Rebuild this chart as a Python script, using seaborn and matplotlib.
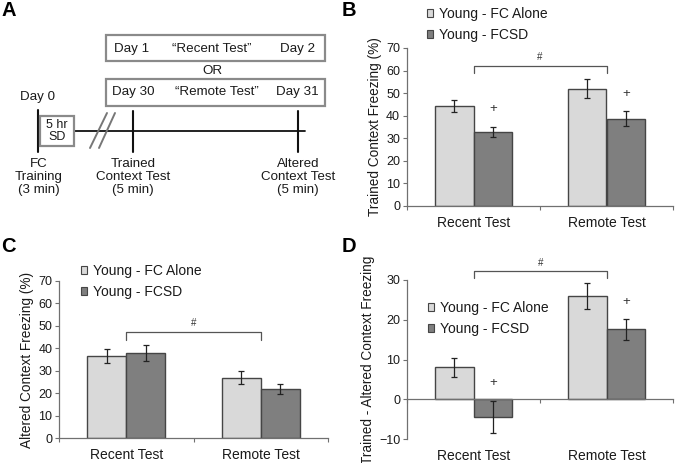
import numpy as np
import pandas as pd
import matplotlib
matplotlib.use("Agg")
import matplotlib.pyplot as plt
import seaborn as sns
from matplotlib.patches import Rectangle

# ---------------- data ----------------
tests = ["Recent Test", "Remote Test"]
groups = ["Young - FC Alone", "Young - FCSD"]

trained_fc_alone = [44.3, 52.0]
trained_fcsd = [32.9, 38.7]
trained_fc_alone_err = [2.6, 4.3]
trained_fcsd_err = [2.3, 3.2]

altered_fc_alone = [36.6, 26.9]
altered_fcsd = [37.9, 21.8]
altered_fc_alone_err = [3.1, 2.8]
altered_fcsd_err = [3.4, 2.2]

diff_fc_alone = [8.1, 26.0]
diff_fcsd = [-4.4, 17.6]
diff_fc_alone_err = [2.4, 3.3]
diff_fcsd_err = [4.0, 2.7]

colors = ["#d9d9d9", "#7f7f7f"]
EDGE = "#454545"
SPINE = "#707070"
TXT = "#1a1a1a"

sns.set_style("white")
plt.rcParams["font.family"] = ["Liberation Sans", "DejaVu Sans"]

W, H = 675, 463
fig = plt.figure(figsize=(W / 100, H / 100), dpi=100)

FS_TICK = 9.0
FS_CAT = 10.0
FS_LEG = 10.0
FS_YLAB = 9.8


def px_axes(left, top, right, bottom):
    return fig.add_axes([left / W, 1 - bottom / H, (right - left) / W, (bottom - top) / H])


def draw_panel(ax, fc, fcsd, fc_err, fcsd_err, ylim, yticks, ylabel,
               leg_xy, bracket, hash_y, plus_y=None, zero_axis=False):
    df = pd.DataFrame({
        "test": tests * 2,
        "group": [groups[0]] * 2 + [groups[1]] * 2,
        "value": list(fc) + list(fcsd),
    })
    sns.barplot(data=df, x="test", y="value", hue="group", order=tests,
                hue_order=groups, palette=colors, edgecolor=EDGE, linewidth=1.0,
                width=0.58, gap=0, errorbar=None, ax=ax, legend=True, zorder=2)
    errs = [fc_err, fcsd_err]
    centers = []
    for cont, err in zip(ax.containers, errs):
        xs = [b.get_x() + b.get_width() / 2 for b in cont]
        ys = [b.get_y() + b.get_height() for b in cont]
        centers.append(xs)
        ax.errorbar(xs, ys, yerr=err, fmt="none", ecolor="#222222",
                    elinewidth=0.9, capsize=2.3, capthick=0.9, zorder=3)

    ax.set_xlim(-0.5, 1.5)
    ax.set_ylim(*ylim)
    ax.set_yticks(yticks)
    ax.set_xlabel("")
    ax.set_ylabel(ylabel, fontsize=FS_YLAB, color=TXT, labelpad=3)
    for s in ["top", "right"]:
        ax.spines[s].set_visible(False)
    for s in ["left", "bottom"]:
        ax.spines[s].set_color(SPINE)
        ax.spines[s].set_linewidth(0.9)
    ax.tick_params(axis="y", direction="out", length=3, width=0.8, color=SPINE,
                   labelsize=FS_TICK, labelcolor=TXT, pad=2, left=True)
    ax.set_xticks([-0.5, 0.5, 1.5], minor=True)
    ax.tick_params(axis="x", which="minor", direction="out", length=3, width=0.8,
                   color=SPINE, bottom=True)
    ax.tick_params(axis="x", which="major", length=0, labelsize=FS_CAT,
                   labelcolor=TXT, pad=7)
    if zero_axis:
        ax.spines["bottom"].set_position(("data", 0))
        ax.tick_params(axis="x", which="major", labelbottom=False)
        sec = ax.secondary_xaxis("bottom")
        sec.set_xticks([0, 1], labels=tests)
        sec.spines["bottom"].set_visible(False)
        sec.tick_params(length=0, labelsize=FS_CAT, labelcolor=TXT, pad=7)

    # legend
    leg = ax.legend(loc="upper left", bbox_to_anchor=(leg_xy[0] / W, 1 - leg_xy[1] / H),
                    bbox_transform=fig.transFigure, frameon=False, fontsize=FS_LEG,
                    handlelength=0.45, handleheight=0.45, handletextpad=0.4,
                    labelspacing=0.5, borderpad=0, borderaxespad=0)
    for h in leg.legend_handles:
        h.set_edgecolor(EDGE)
        h.set_linewidth(0.8)
    for t in leg.get_texts():
        t.set_color(TXT)

    # significance bracket
    y_lo, y_hi = bracket
    ax.plot([0, 0, 1, 1], [y_lo, y_hi, y_hi, y_lo], color="#555555", lw=0.9,
            clip_on=False, zorder=4)
    ax.text(0.5, hash_y, "#", ha="center", va="center", fontsize=7, color="#333333")
    if plus_y is not None:
        for x, y in zip(centers[1], plus_y):
            ax.text(x, y, "+", ha="center", va="center", fontsize=9.5, color="#333333")


# ---------------- panel B ----------------
axB = px_axes(407, 48, 673, 206)
draw_panel(axB, trained_fc_alone, trained_fcsd, trained_fc_alone_err, trained_fcsd_err,
           (0, 70), range(0, 71, 10), "Trained Context Freezing (%)",
           (427, 7), (58.8, 62.0), 66.0, plus_y=[43.0, 49.6])

# ---------------- panel C ----------------
axC = px_axes(59.3, 280.7, 327.7, 438.3)
draw_panel(axC, altered_fc_alone, altered_fcsd, altered_fc_alone_err, altered_fcsd_err,
           (0, 70), range(0, 71, 10), "Altered Context Freezing (%)",
           (81, 264), (43.7, 47.4), 51.0)

# ---------------- panel D ----------------
axD = px_axes(407.3, 280, 673, 439)
draw_panel(axD, diff_fc_alone, diff_fcsd, diff_fc_alone_err, diff_fcsd_err,
           (-10, 30), range(-10, 31, 10), "Trained - Altered Context Freezing",
           (428, 301), (30.6, 32.2), 34.3, plus_y=[4.0, 24.5], zero_axis=True)

# ---------------- panel A (timeline diagram) ----------------
axA = fig.add_axes([0, 0, 1, 1], zorder=-1)
axA.set_xlim(0, W)
axA.set_ylim(H, 0)
axA.axis("off")
BOX = "#8a8a8a"
fsA = 9.6
axA.add_patch(Rectangle((106, 35), 219, 26, fill=False, edgecolor=BOX, lw=1.6))
axA.add_patch(Rectangle((106, 79), 219, 27, fill=False, edgecolor=BOX, lw=1.6))
axA.text(132, 49, "Day 1", ha="center", va="center", fontsize=fsA, color=TXT)
axA.text(212, 49, "\u201cRecent Test\u201d", ha="center", va="center", fontsize=fsA, color=TXT)
axA.text(297, 49, "Day 2", ha="center", va="center", fontsize=fsA, color=TXT)
axA.text(212, 71, "OR", ha="center", va="center", fontsize=fsA, color=TXT)
axA.text(133, 92, "Day 30", ha="center", va="center", fontsize=fsA, color=TXT)
axA.text(217, 92, "\u201cRemote Test\u201d", ha="center", va="center", fontsize=fsA, color=TXT)
axA.text(297, 92, "Day 31", ha="center", va="center", fontsize=fsA, color=TXT)
axA.text(38, 97, "Day 0", ha="center", va="center", fontsize=fsA, color=TXT)

axA.plot([38, 305], [131, 131], color="#111111", lw=1.3)
axA.plot([38, 38], [110, 152], color="#111111", lw=1.5)
axA.plot([133, 133], [111, 152], color="#111111", lw=1.5)
axA.plot([298, 298], [111, 152], color="#111111", lw=1.5)
axA.add_patch(Rectangle((40, 116), 34, 30, facecolor="white", edgecolor=BOX, lw=1.6, zorder=3))
axA.text(57, 131, "5 hr\nSD", ha="center", va="center", fontsize=9, color=TXT,
         linespacing=0.95, zorder=4)
axA.plot([90, 107], [148, 113], color="#777777", lw=1.4)
axA.plot([99, 115], [148, 113], color="#777777", lw=1.4)

axA.text(39, 158, "FC\nTraining\n(3 min)", ha="center", va="top", fontsize=fsA,
         color=TXT, linespacing=1.12)
axA.text(133, 158, "Trained\nContext Test\n(5 min)", ha="center", va="top", fontsize=fsA,
         color=TXT, linespacing=1.12)
axA.text(298, 158, "Altered\nContext Test\n(5 min)", ha="center", va="top", fontsize=fsA,
         color=TXT, linespacing=1.12)

# panel letters
for lbl, x, y in [("A", 2, 1), ("B", 342, 1), ("C", 1, 237), ("D", 342, 237)]:
    fig.text(x / W, 1 - y / H, lbl, ha="left", va="top", fontsize=14.5,
             fontweight="bold", color="#000000")

fig.savefig("out.png", dpi=100)
